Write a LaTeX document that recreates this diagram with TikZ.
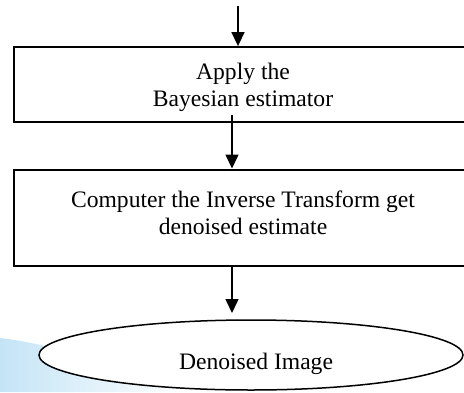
\documentclass[tikz,border=0pt]{standalone}
\usepackage{fontspec}
\setmainfont{Liberation Serif}
\usetikzlibrary{arrows.meta,shapes.geometric,calc}
\definecolor{swoosh}{RGB}{196,228,246}
\tikzset{
  box/.style={draw=black,line width=1.8pt,rectangle,inner sep=0pt},
  arr/.style={line width=1.5pt,-{Triangle[width=13pt,length=14pt]}},
  txt/.style={font=\fontsize{23.6}{27}\selectfont,align=center,inner sep=0pt},
  oval/.style={draw=black,line width=1.5pt,ellipse,fill=white,inner sep=0pt}
}
\begin{document}
\begin{tikzpicture}[x=1pt,y=-1pt]
\useasboundingbox (0,0) rectangle (464,392);
\clip (0,0) rectangle (464,392);
% faint background swoosh
\shade[left color=swoosh,right color=white] (0,338) .. controls (60,345) and (130,370) .. (185,392) -- (0,392) -- cycle;
% boxes
\node[box,minimum width=461pt,minimum height=75pt] (b1) at (244.5,84.5) {};
\node[box,minimum width=461pt,minimum height=96pt] (b2) at (244.5,218) {};
\node[txt] (t1) at (243,87) {Apply the\\Bayesian estimator};
\node[txt] (t2) at (243,213) {Computer the Inverse Transform get\\denoised estimate};
% ellipse
\node[oval,minimum width=424pt,minimum height=70pt] (el) at (251,355) {};
\node[txt] (t3) at (256,364) {Denoised Image};
% connectors
\coordinate (in) at (238,6);
\draw[arr] (in) -- (in |- b1.north);
\coordinate (s2) at (232,115);
\draw[arr] (s2) -- (232,168.5) coordinate (e2);
\coordinate (s3) at (232,266);
\coordinate (e3) at (232,313);
\draw[arr] (s3 |- b2.south) -- (e3);
\end{tikzpicture}
\end{document}
